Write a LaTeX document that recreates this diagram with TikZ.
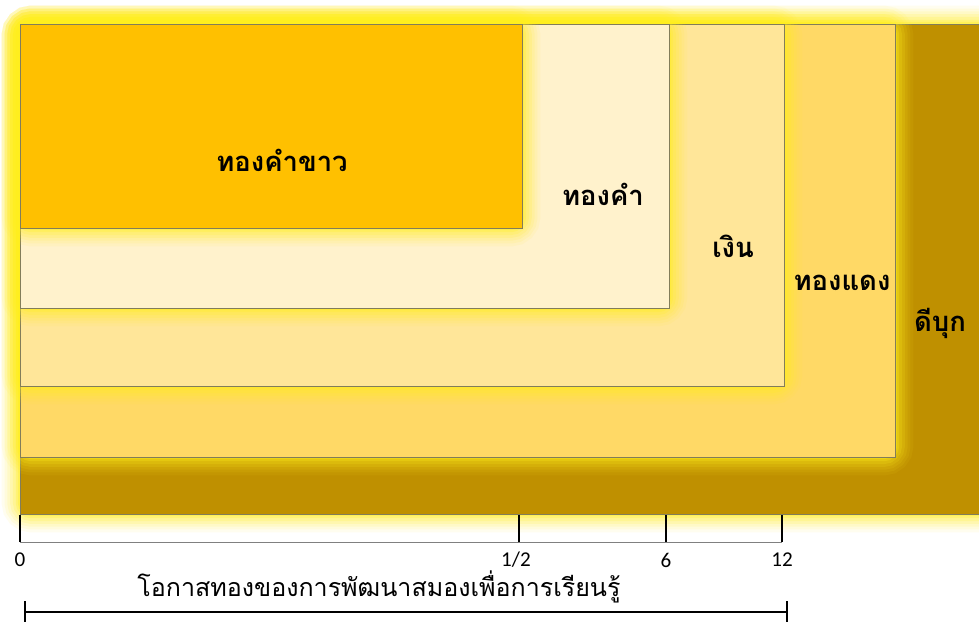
\documentclass[tikz,border=0pt]{standalone}
\usepackage{fontspec}
\setmainfont{Carlito}
\newfontfamily\thaifont[Script=Thai]{Loma}
\usepackage{tikz}

\definecolor{platinum}{RGB}{255,192,0}
\definecolor{gold}{RGB}{255,242,204}
\definecolor{silver}{RGB}{255,230,153}
\definecolor{copper}{RGB}{255,217,102}
\definecolor{tin}{RGB}{191,144,0}
\definecolor{glowy}{RGB}{255,238,30}
\definecolor{edgegray}{RGB}{130,125,90}

\begin{document}
\begin{tikzpicture}[x=0.025cm,y=-0.025cm,
  box/.style={draw=edgegray,line width=0.6pt},
  metal/.style={font=\thaifont\bfseries\fontsize{19.5}{22}\selectfont},
  tickline/.style={line width=1.2pt},
  num/.style={font=\fontsize{15}{17}\selectfont}]
\clip (0,0) rectangle (979,621);
\fill[white] (0,0) rectangle (979,621);
\foreach \xr/\yb/\col in {1010/514/tin,895/457/copper,784/386/silver,669/308/gold,522/228/platinum} {
  \foreach \w/\o in {26/0.07,22/0.09,18/0.11,14/0.14,10/0.18,6/0.25,3/0.35}
    \draw[glowy,line width=\w pt,opacity=\o,rounded corners=8pt] (20,24) rectangle (\xr,\yb);
  \draw[box,fill=\col] (20,24) rectangle (\xr,\yb);
}
\node[metal] (platinumlbl) at (282,160) {ทองคำขาว};
\node[metal] (goldlbl) at (603,194) {ทองคำ};
\node[metal] (silverlbl) at (733,246) {เงิน};
\node[metal] (copperlbl) at (842,283) {ทองแดง};
\node[metal] (tinlbl) at (940,323) {ดีบุก};

\coordinate (t0) at (20,542);
\coordinate (t1) at (519,542);
\coordinate (t2) at (666,542);
\coordinate (t3) at (782,542);
\draw[gray,line width=0.5pt] (t0) -- (t3);
\foreach \t in {t0,t1,t2,t3}
  \draw[tickline] (\t) -- ++(0,-27);
\node[num] (n0) at (20,560) {0};
\node[num] (n1) at (516,560) {1/2};
\node[num] (n2) at (666,560) {6};
\node[num] (n3) at (782,560) {12};

\node[font=\thaifont\fontsize{17.8}{21}\selectfont] (span) at (379,587) {โอกาสทองของการพัฒนาสมองเพื่อการเรียนรู้};
\coordinate (bl) at (25,612);
\coordinate (br) at (787,612);
\draw[line width=1.3pt] (bl) -- (br);
\draw[line width=1.3pt] (bl) ++(0,-11) -- ++(0,22);
\draw[line width=1.3pt] (br) ++(0,-11) -- ++(0,22);
\end{tikzpicture}
\end{document}
